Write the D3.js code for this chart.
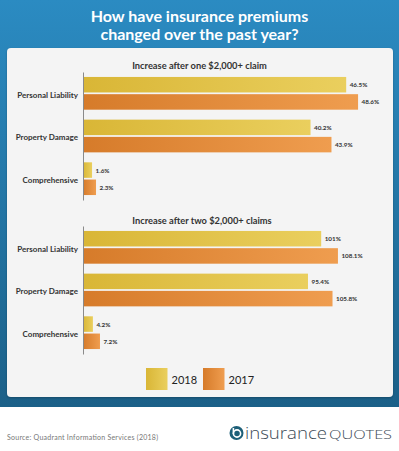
<!DOCTYPE html>
<html><head><meta charset="utf-8">
<script src="https://cdn.jsdelivr.net/npm/d3@7"></script>
<style>html,body{margin:0;padding:0;background:#fff}svg{display:block}</style>
</head><body>
<script>
const categories = ["Personal Liability", "Property Damage", "Comprehensive"];
const seriesNames = ["2018", "2017"];
const one2018 = [46.5, 40.2, 1.6];
const one2017 = [48.6, 43.9, 2.3];
const two2018 = [101, 95.4, 4.2];
const two2017 = [108.1, 105.8, 7.2];
const titleLines = ["How have insurance premiums", "changed over the past year?"];
const panelTitles = ["Increase after one $2,000+ claim", "Increase after two $2,000+ claims"];
const source = "Source: Quadrant Information Services (2018)";

const W = 399, H = 451;
const svg = d3.select("body").append("svg").attr("width", W).attr("height", H);
const defs = svg.append("defs");

function lg(id, c1, c2, vertical) {
  const g = defs.append("linearGradient").attr("id", id)
    .attr("x1", 0).attr("y1", 0).attr("x2", vertical ? 0 : 1).attr("y2", vertical ? 1 : 0);
  g.append("stop").attr("offset", "0%").attr("stop-color", c1);
  g.append("stop").attr("offset", "100%").attr("stop-color", c2);
}
lg("bg", "#2b8bc2", "#1b6088", true);
lg("g2018", "#d9b636", "#eacf5e");
lg("g2017", "#d67b2a", "#ef9d4f");
const fills = {"2018": "url(#g2018)", "2017": "url(#g2017)"};

const sh = defs.append("filter").attr("id", "sh").attr("x", "-5%").attr("y", "-5%").attr("width", "110%").attr("height", "110%");
sh.append("feDropShadow").attr("dx", 0).attr("dy", 1).attr("stdDeviation", 1).attr("flood-color", "#000").attr("flood-opacity", 0.25);

svg.append("rect").attr("x", 0).attr("y", 0).attr("width", W).attr("height", 407).attr("fill", "url(#bg)");
svg.append("rect").attr("x", 7).attr("y", 48).attr("width", 386).attr("height", 349).attr("rx", 4)
  .attr("fill", "#f4f4f4").attr("filter", "url(#sh)");

svg.selectAll("text.title").data(titleLines).join("text").attr("class", "title")
  .attr("x", 199.5).attr("y", (d, i) => 22 + i * 17.5)
  .attr("text-anchor", "middle").attr("fill", "#fff")
  .style("font-family", "Lato, 'Open Sans', sans-serif").style("font-weight", 700).style("font-size", "16px")
  .text(d => d);

const panels = [
  {title: panelTitles[0], titleY: 68.5, range: [72, 200], domain: [0, 50], v2018: one2018, v2017: one2017, tx: 199.5},
  {title: panelTitles[1], titleY: 223.5, range: [226, 354], domain: [0, 120], v2018: two2018, v2017: two2017, tx: 202}
];

panels.forEach(p => {
  const g = svg.append("g");
  g.append("text").attr("x", p.tx).attr("y", p.titleY).attr("text-anchor", "middle")
    .attr("fill", "#333").style("font-family", "Lato, sans-serif").style("font-weight", 700).style("font-size", "9.3px")
    .text(p.title);

  const x = d3.scaleLinear().domain(p.domain).range([83, 366]);
  const y = d3.scaleBand().domain(categories).range(p.range).paddingInner(0.233).paddingOuter(0.116);
  const ys = d3.scaleBand().domain(seriesNames).range([0, y.bandwidth()]).paddingInner(0.1);

  const rows = categories.map((c, i) => ({c, vals: [{s: "2018", v: p.v2018[i]}, {s: "2017", v: p.v2017[i]}]}));
  const grp = g.selectAll("g.cat").data(rows).join("g").attr("class", "cat")
    .attr("transform", d => `translate(0,${y(d.c)})`);
  grp.selectAll("rect").data(d => d.vals).join("rect")
    .attr("x", x(0)).attr("y", d => ys(d.s)).attr("width", d => x(d.v) - x(0)).attr("height", ys.bandwidth())
    .attr("fill", d => fills[d.s]);
  grp.selectAll("text").data(d => d.vals).join("text")
    .attr("x", d => x(d.v) + 3.5).attr("y", d => ys(d.s) + ys.bandwidth() / 2)
    .attr("dominant-baseline", "central").attr("fill", "#333")
    .style("font-family", "Lato, sans-serif").style("font-weight", 700).style("font-size", "6.3px")
    .text(d => d.v + "%");

  const ax = g.append("g").attr("transform", `translate(${x(0)},0)`)
    .call(d3.axisLeft(y).tickSize(0).tickPadding(5).tickSizeOuter(0));
  ax.select(".domain").attr("stroke", "#8a8a8a").attr("stroke-width", 1);
  ax.selectAll(".tick text").attr("fill", "#333").attr("dy", "0.55em")
    .style("font-family", "Lato, sans-serif").style("font-weight", 700).style("font-size", "8px");
});

// legend
const leg = svg.append("g").selectAll("g").data(seriesNames).join("g")
  .attr("transform", (d, i) => `translate(${146 + i * 57},368)`);
leg.append("rect").attr("width", 21.5).attr("height", 22).attr("fill", d => fills[d]);
leg.append("text").attr("x", 25.5).attr("y", 11).attr("dominant-baseline", "central")
  .attr("fill", "#222").style("font-family", "Lato, sans-serif").style("font-size", "11px").text(d => d);

// source
svg.append("text").attr("x", 7).attr("y", 440).attr("fill", "#777")
  .style("font-family", "Lato, sans-serif").style("font-size", "7px")
  .attr("textLength", 151).text(source);

// logo
const logo = svg.append("g");
logo.append("circle").attr("cx", 236.5).attr("cy", 433).attr("r", 7).attr("fill", "#1d5f78");
logo.append("circle").attr("cx", 237).attr("cy", 433.5).attr("r", 3.6).attr("fill", "none").attr("stroke", "#fff").attr("stroke-width", 1.6);
logo.append("line").attr("x1", 233.4).attr("y1", 428).attr("x2", 233.4).attr("y2", 434).attr("stroke", "#fff").attr("stroke-width", 1.6);
logo.append("text").attr("x", 245).attr("y", 438.5).attr("fill", "#3b4a56")
  .style("font-family", "'Open Sans', Lato, sans-serif").style("font-weight", 300).style("font-size", "17px")
  .attr("textLength", 82).attr("lengthAdjust", "spacingAndGlyphs").text("insurance");
logo.append("text").attr("x", 329).attr("y", 438.5).attr("fill", "#3b4a56")
  .style("font-family", "'Open Sans', Lato, sans-serif").style("font-weight", 300).style("font-size", "12.5px")
  .attr("textLength", 63).attr("lengthAdjust", "spacingAndGlyphs").text("QUOTES");
</script>
</body></html>
